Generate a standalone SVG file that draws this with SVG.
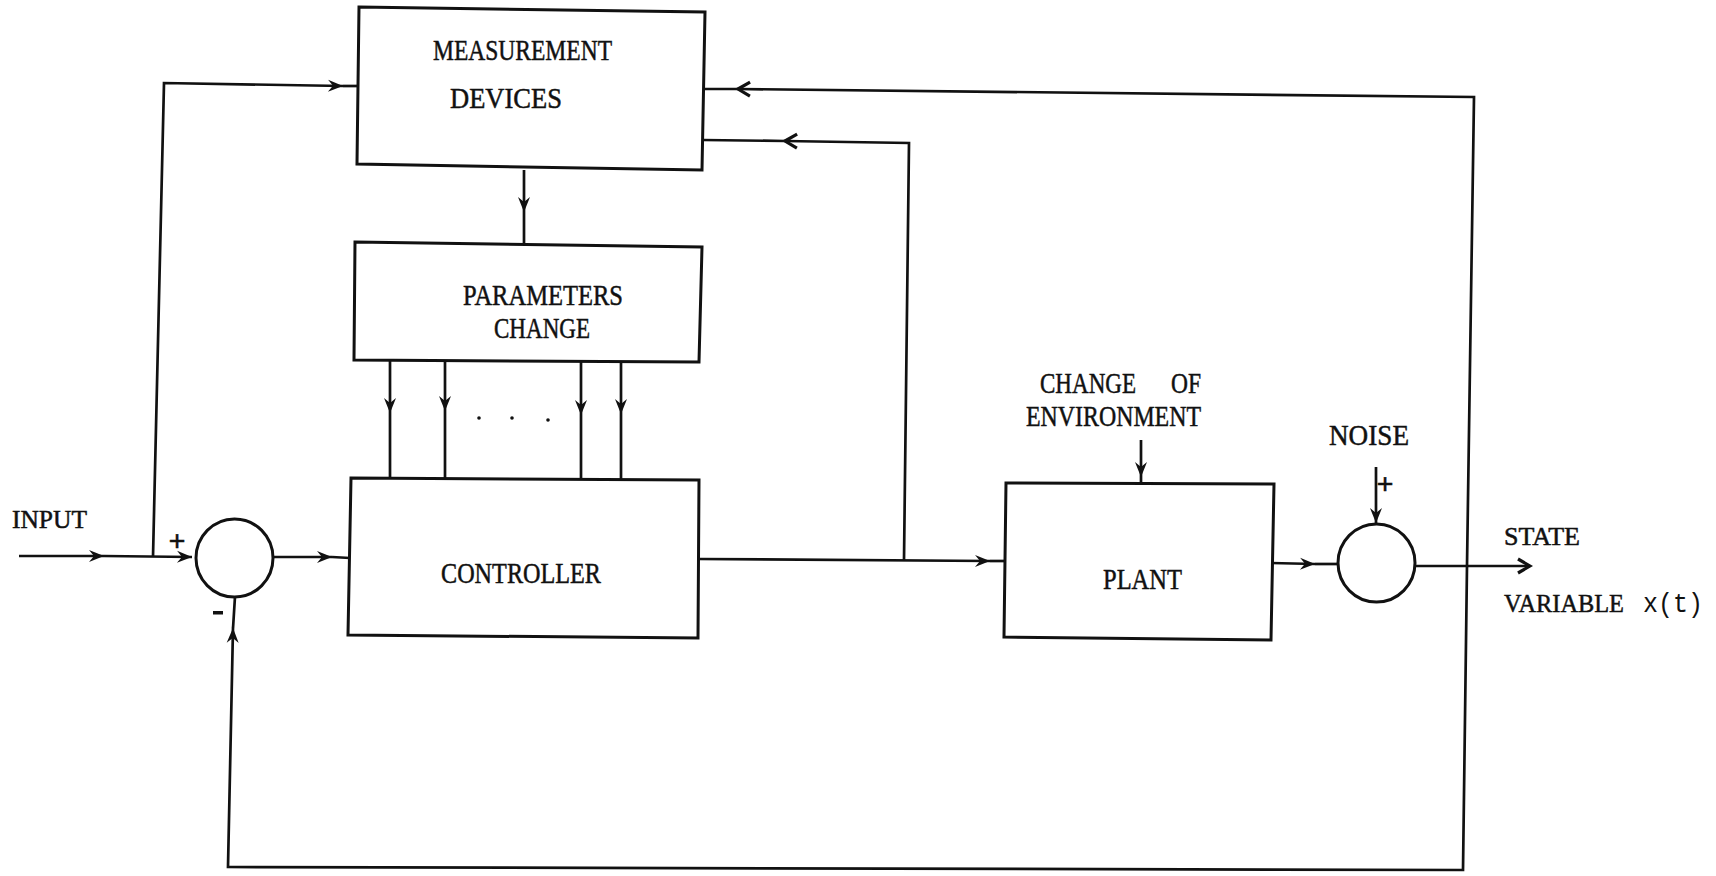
<svg xmlns="http://www.w3.org/2000/svg" width="1716" height="876" viewBox="0 0 1716 876">
<style>
.box{fill:none;stroke:#111;stroke-width:3}
.ln{fill:none;stroke:#111;stroke-width:2.7}
.t{font-family:"Liberation Serif",serif;fill:#111;stroke:#111;stroke-width:0.5;font-size:30px}
.s{font-size:26px}
.m{font-family:"Liberation Mono",monospace;font-size:27px}
</style>
<defs>
<marker id="barb" markerUnits="userSpaceOnUse" markerWidth="18" markerHeight="14" refX="16" refY="7" orient="auto">
<path d="M16,7 L1,1 L6,7 L1,13 Z" fill="#111"/>
</marker>
<marker id="chev" markerUnits="userSpaceOnUse" markerWidth="18" markerHeight="18" refX="15" refY="9" orient="auto">
<path d="M3,2 L15,9 L3,16" fill="none" stroke="#111" stroke-width="3.2"/>
</marker>
</defs>
<rect width="1716" height="876" fill="#fff"/>
<g id="connectors">
<path class="ln" d="M19,556 L104,556" marker-end="url(#barb)"/>
<path class="ln" d="M104,556 L192,557" marker-end="url(#barb)"/>
<path class="ln" d="M153,557 L164,83 L343,86" marker-end="url(#barb)"/>
<path class="ln" d="M343,86 L358,86"/>
<path class="ln" d="M524,170 L524,212" marker-end="url(#barb)"/>
<path class="ln" d="M524,212 L524,244"/>
<path class="ln" d="M390,361 L390,413" marker-end="url(#barb)"/>
<path class="ln" d="M390,413 L390,479"/>
<path class="ln" d="M445,361 L445,411" marker-end="url(#barb)"/>
<path class="ln" d="M445,411 L445,479"/>
<path class="ln" d="M581,361 L581,415" marker-end="url(#barb)"/>
<path class="ln" d="M581,415 L581,480"/>
<path class="ln" d="M621,362 L621,414" marker-end="url(#barb)"/>
<path class="ln" d="M621,414 L621,480"/>
<path class="ln" d="M273,557 L332,557" marker-end="url(#barb)"/>
<path class="ln" d="M332,557 L350,558"/>
<path class="ln" d="M699,559 L990,561" marker-end="url(#barb)"/>
<path class="ln" d="M990,561 L1005,561"/>
<path class="ln" d="M904,560 L909,143 L785,141" marker-end="url(#chev)"/>
<path class="ln" d="M785,141 L703,140"/>
<path class="ln" d="M1271,563 L1315,564" marker-end="url(#barb)"/>
<path class="ln" d="M1315,564 L1338,564"/>
<path class="ln" d="M1141,440 L1141,477" marker-end="url(#barb)"/>
<path class="ln" d="M1141,477 L1141,484"/>
<path class="ln" d="M1376,467 L1376,523" marker-end="url(#barb)"/>
<path class="ln" d="M1415,566 L1530,566" marker-end="url(#chev)"/>
<path class="ln" d="M1467,566 L1463,870 L228,867 L233,628" marker-end="url(#barb)"/>
<path class="ln" d="M233,628 L235,597"/>
<path class="ln" d="M1467,566 L1474,97 L738,89" marker-end="url(#chev)"/>
<path class="ln" d="M738,89 L705,89"/>
</g>
<g id="measurement">
<polygon class="box" points="359,7 705,12 702,170 357,164"/>
<text class="t" x="433" y="60" textLength="179" lengthAdjust="spacingAndGlyphs">MEASUREMENT</text>
<text class="t" x="450" y="108" textLength="112" lengthAdjust="spacingAndGlyphs">DEVICES</text>
</g>
<g id="parameters">
<polygon class="box" points="355,242 702,247 699,362 354,360"/>
<text class="t" x="463" y="305" textLength="160" lengthAdjust="spacingAndGlyphs">PARAMETERS</text>
<text class="t" x="494" y="338" textLength="96" lengthAdjust="spacingAndGlyphs">CHANGE</text>
</g>
<g id="dots">
<circle cx="479" cy="418" r="1.8" fill="#111"/>
<circle cx="512" cy="418" r="1.8" fill="#111"/>
<circle cx="548" cy="420" r="1.8" fill="#111"/>
</g>
<g id="controller">
<polygon class="box" points="351,478 699,480 698,638 348,635"/>
<text class="t" x="441" y="583" textLength="160" lengthAdjust="spacingAndGlyphs">CONTROLLER</text>
</g>
<g id="sum1">
<ellipse class="box" cx="234.5" cy="558" rx="38.5" ry="39"/>
<text class="t" x="177" y="551" text-anchor="middle" font-weight="bold" font-size="24">+</text>
<rect x="213" y="611" width="10" height="3.5" fill="#111"/>
</g>
<g id="input-label">
<text class="t s" x="12" y="528" textLength="75" lengthAdjust="spacingAndGlyphs">INPUT</text>
</g>
<g id="plant">
<polygon class="box" points="1006,483 1274,484 1271,640 1004,637"/>
<text class="t" x="1103" y="589" textLength="79" lengthAdjust="spacingAndGlyphs">PLANT</text>
</g>
<g id="environment">
<text class="t" x="1040" y="393" textLength="96" lengthAdjust="spacingAndGlyphs">CHANGE</text>
<text class="t" x="1171" y="393" textLength="30" lengthAdjust="spacingAndGlyphs">OF</text>
<text class="t" x="1026" y="426" textLength="175" lengthAdjust="spacingAndGlyphs">ENVIRONMENT</text>
</g>
<g id="sum2">
<ellipse class="box" cx="1376.5" cy="563" rx="38.5" ry="39"/>
<text class="t" x="1329" y="445" textLength="80" lengthAdjust="spacingAndGlyphs" font-size="27">NOISE</text>
<text class="t" x="1385" y="494" text-anchor="middle" font-weight="bold" font-size="22">+</text>
</g>
<g id="output-label">
<text class="t s" x="1504" y="545" textLength="76" lengthAdjust="spacingAndGlyphs">STATE</text>
<text class="t s" x="1504" y="612" textLength="120" lengthAdjust="spacingAndGlyphs">VARIABLE</text>
<text class="m" x="1643" y="612" textLength="60" lengthAdjust="spacingAndGlyphs" fill="#111">x(t)</text>
</g>
</svg>
